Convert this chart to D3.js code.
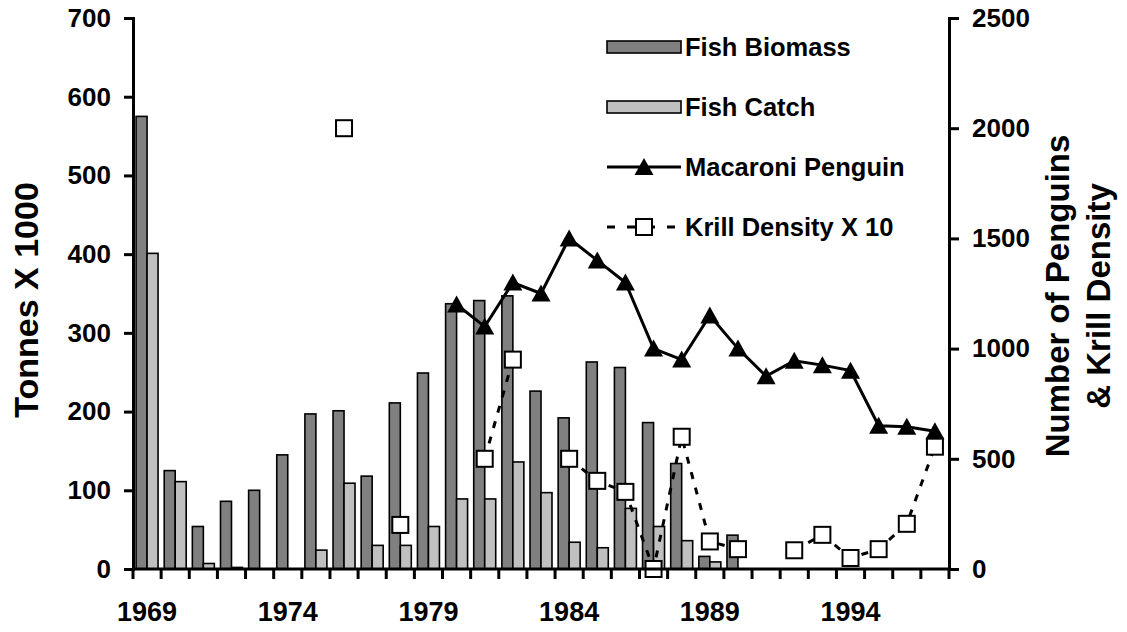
<!DOCTYPE html>
<html>
<head>
<meta charset="utf-8">
<script src="https://cdn.jsdelivr.net/npm/d3@7"></script>
<style>
  body { margin: 0; background: #fff; }
  svg { display: block; font-family: "Liberation Sans", Arial, sans-serif; font-weight: bold; }
</style>
</head>
<body>
<div id="chart-area"></div>
<script>
// one value per season, 1969 .. 1997 (null = no data)
const years = d3.range(1969, 1998);

const fishBiomass = [575, 125, 54, 86, 100, 145, 197, 201, 118, 211, 249, 337, 341, 347, 226, 192, 263, 256, 186, 134, 16, 43,
  null, null, null, null, null, null, null];
const fishCatch = [401, 111, 7, 2, 0, 0, 24, 109, 30, 30, 54, 89, 89, 136, 97, 34, 27, 77, 54, 36, 9, 0,
  null, null, null, null, null, null, null];
const penguins = [null, null, null, null, null, null, null, null, null, null, null,
  1200, 1100, 1300, 1250, 1500, 1400, 1300, 1000, 950, 1150, 1000, 875, 945, 925, 900, 650, 645, 625];
const krillX10 = [null, null, null, null, null, null, null, 2000, null, 200, null, null,
  500, 950, null, 500, 400, 350, 0, 600, 125, 90, null, 85, 155, 50, 90, 205, 555];

const yearLabels = [1969, 1974, 1979, 1984, 1989, 1994];
const leftTicks = [0, 100, 200, 300, 400, 500, 600, 700];
const rightTicks = [0, 500, 1000, 1500, 2000, 2500];
const legendLabels = ['Fish Biomass', 'Fish Catch', 'Macaroni Penguin', 'Krill Density X 10'];

const width = 1127, height = 632;
const plot = { left: 133, right: 949, top: 18, bottom: 569 };

const svg = d3.select('#chart-area').append('svg')
  .attr('width', width)
  .attr('height', height);

const x = d3.scaleBand()
  .domain(years)
  .range([plot.left, plot.right]);

const xSub = d3.scaleBand()
  .domain(['biomass', 'catch'])
  .range([0, x.bandwidth()])
  .paddingOuter(0.28);

const yL = d3.scaleLinear().domain([0, 700]).range([plot.bottom, plot.top]);
const yR = d3.scaleLinear().domain([0, 2500]).range([plot.bottom, plot.top]);

// bars
const barSeries = [
  { key: 'biomass', values: fishBiomass, fill: '#808080' },
  { key: 'catch', values: fishCatch, fill: '#c0c0c0' }
];
barSeries.forEach(s => {
  svg.append('g')
    .selectAll('rect')
    .data(years.map((yr, i) => ({ yr, v: s.values[i] })).filter(d => d.v))
    .enter()
    .append('rect')
      .attr('x', d => x(d.yr) + xSub(s.key))
      .attr('y', d => yL(d.v))
      .attr('width', xSub.bandwidth())
      .attr('height', d => yL(0) - yL(d.v))
      .attr('fill', s.fill)
      .attr('stroke', '#000')
      .attr('stroke-width', 1.6);
});

const cx = yr => x(yr) + x.bandwidth() / 2;

// krill dashed line + squares
const krill = years.map((yr, i) => ({ yr, v: krillX10[i] }));
svg.append('path')
  .datum(krill)
  .attr('fill', 'none')
  .attr('stroke', '#000')
  .attr('stroke-width', 3)
  .attr('stroke-dasharray', '7,9')
  .attr('d', d3.line().defined(d => d.v !== null).x(d => cx(d.yr)).y(d => yR(d.v)));

// penguin line + triangles
const peng = years.map((yr, i) => ({ yr, v: penguins[i] }));
svg.append('path')
  .datum(peng)
  .attr('fill', 'none')
  .attr('stroke', '#000')
  .attr('stroke-width', 3)
  .attr('d', d3.line().defined(d => d.v !== null).x(d => cx(d.yr)).y(d => yR(d.v)));

const tri = 'M0,-9L9.5,8L-9.5,8Z';
svg.append('g')
  .selectAll('path')
  .data(peng.filter(d => d.v !== null))
  .enter()
  .append('path')
    .attr('d', tri)
    .attr('transform', d => `translate(${cx(d.yr)},${yR(d.v)})`)
    .attr('fill', '#000');

svg.append('g')
  .selectAll('rect')
  .data(krill.filter(d => d.v !== null))
  .enter()
  .append('rect')
    .attr('x', d => cx(d.yr) - 8)
    .attr('y', d => yR(d.v) - 8)
    .attr('width', 16)
    .attr('height', 16)
    .attr('fill', '#fff')
    .attr('stroke', '#000')
    .attr('stroke-width', 2);

// axes
const styleAxis = g => {
  g.select('.domain').attr('stroke-width', 3);
  g.selectAll('.tick line').attr('stroke-width', 3);
  g.selectAll('text').attr('font-size', 26).attr('font-weight', 'bold').attr('fill', '#000')
    .attr('font-family', '"Liberation Sans", Arial, sans-serif');
};

svg.append('g')
  .attr('transform', `translate(${plot.left},0)`)
  .call(d3.axisLeft(yL).tickValues(leftTicks).tickSize(9).tickPadding(13))
  .call(styleAxis);

svg.append('g')
  .attr('transform', `translate(${plot.right},0)`)
  .call(d3.axisRight(yR).tickValues(rightTicks).tickFormat(d3.format('d')).tickSize(10).tickPadding(13))
  .call(styleAxis);

// bottom axis: line + ticks at category edges
const xAxis = svg.append('g').attr('transform', `translate(0,${plot.bottom})`);
xAxis.append('line')
  .attr('x1', plot.left).attr('x2', plot.right)
  .attr('stroke', '#000').attr('stroke-width', 3);
xAxis.selectAll('.edge')
  .data(years.concat([null]))
  .enter()
  .append('line')
    .attr('x1', d => d === null ? x.range()[1] : x(d))
    .attr('x2', d => d === null ? x.range()[1] : x(d))
    .attr('y1', 0).attr('y2', 10)
    .attr('stroke', '#000').attr('stroke-width', 3);
xAxis.selectAll('.yl')
  .data(yearLabels)
  .enter()
  .append('text')
    .attr('x', d => cx(d))
    .attr('y', 52)
    .attr('text-anchor', 'middle')
    .attr('font-size', 27)
    .text(d => d);

// axis titles
svg.append('text')
  .attr('transform', 'translate(38,300) rotate(-90)')
  .attr('text-anchor', 'middle')
  .attr('font-size', 34)
  .text('Tonnes X 1000');

svg.append('text')
  .attr('transform', 'translate(1069,296) rotate(-90)')
  .attr('text-anchor', 'middle')
  .attr('font-size', 33)
  .text('Number of Penguins');
svg.append('text')
  .attr('transform', 'translate(1110,296) rotate(-90)')
  .attr('text-anchor', 'middle')
  .attr('font-size', 33)
  .text('& Krill Density');

// legend
const legend = svg.append('g').attr('transform', 'translate(607,47)');
const rows = legend.selectAll('g')
  .data(legendLabels)
  .enter()
  .append('g')
    .attr('transform', (d, i) => `translate(0,${i * 60})`);

rows.append('text')
  .attr('x', 78)
  .attr('y', 9)
  .attr('font-size', 25.5)
  .text(d => d);

rows.filter((d, i) => i < 2)
  .append('rect')
    .attr('x', 0).attr('y', -6)
    .attr('width', 74).attr('height', 12)
    .attr('fill', (d, i) => barSeries[i].fill)
    .attr('stroke', '#000')
    .attr('stroke-width', 1.6);

const penRow = rows.filter((d, i) => i === 2);
penRow.append('line')
  .attr('x1', 0).attr('x2', 74)
  .attr('stroke', '#000').attr('stroke-width', 3);
penRow.append('path')
  .attr('d', tri)
  .attr('transform', 'translate(37,0)');

const krRow = rows.filter((d, i) => i === 3);
krRow.append('line')
  .attr('x1', 0).attr('x2', 74)
  .attr('stroke', '#000').attr('stroke-width', 3)
  .attr('stroke-dasharray', '8,12');
krRow.append('rect')
  .attr('x', 29).attr('y', -8)
  .attr('width', 16).attr('height', 16)
  .attr('fill', '#fff').attr('stroke', '#000').attr('stroke-width', 2);
</script>
</body>
</html>
